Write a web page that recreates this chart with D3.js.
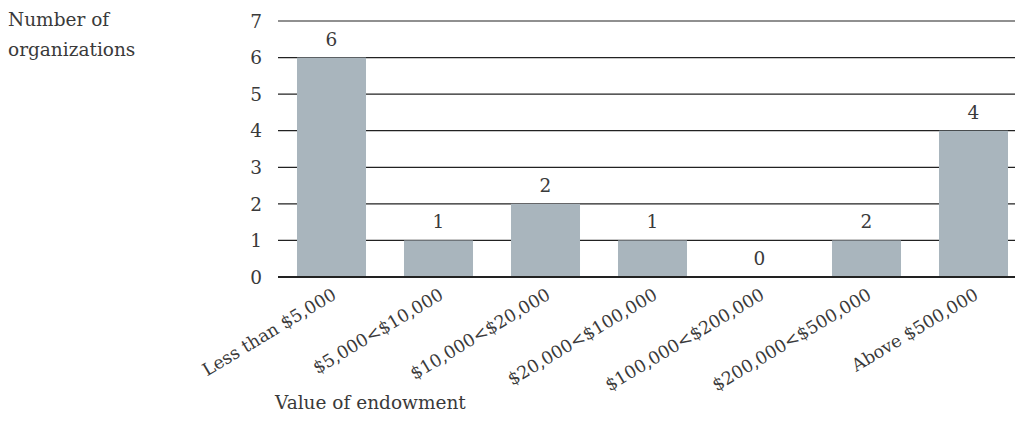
<!DOCTYPE html>
<html>
<head>
<meta charset="utf-8">
<script src="https://cdn.jsdelivr.net/npm/d3@7"></script>
<style>
  body { margin: 0; background: #fff; }
  svg text { font-family: "DejaVu Serif", "Liberation Serif", serif; fill: #3a3a3a; }
</style>
</head>
<body>
<div id="chart"></div>
<script>
// endowment brackets
var categories = ["Less than $5,000", "$5,000<$10,000", "$10,000<$20,000", "$20,000<$100,000",
                  "$100,000<$200,000", "$200,000<$500,000", "Above $500,000"];
var counts = [6, 1, 2, 1, 0, 1, 4];
// labels as printed above the bars
var barLabels = ["6", "1", "2", "1", "0", "2", "4"];
var yTicks = [0, 1, 2, 3, 4, 5, 6, 7];

var svg_width = 1015,
    svg_height = 430,
    margin = {top: 21, right: -12, bottom: 153, left: 278},
    width = svg_width - margin.left - margin.right,
    height = svg_height - margin.top - margin.bottom;

var svg = d3.select("#chart").append("svg")
    .attr("width", svg_width)
    .attr("height", svg_height);

var g = svg.append("g")
    .attr("transform", "translate(" + margin.left + "," + margin.top + ")");

var x = d3.scaleBand()
    .domain(categories)
    .range([0, width])
    .paddingInner(0.355)
    .paddingOuter(0.1775);

var y = d3.scaleLinear()
    .domain([0, 7])
    .range([height, 0]);

// gridlines
g.selectAll(".grid")
    .data(yTicks.filter(function(d) { return d > 0; }))
    .enter().append("line")
    .attr("x1", 0)
    .attr("x2", width)
    .attr("y1", function(d) { return y(d); })
    .attr("y2", function(d) { return y(d); })
    .attr("stroke", "#222")
    .attr("stroke-width", 1.2);

// y tick labels
g.selectAll(".ytick")
    .data(yTicks)
    .enter().append("text")
    .attr("x", -16)
    .attr("y", function(d) { return y(d); })
    .attr("dy", "0.36em")
    .attr("text-anchor", "end")
    .style("font-size", "18.5px")
    .text(function(d) { return d; });

// bars
g.selectAll(".bar")
    .data(counts)
    .enter().append("rect")
    .attr("x", function(d, i) { return x(categories[i]); })
    .attr("y", function(d) { return y(d); })
    .attr("width", x.bandwidth())
    .attr("height", function(d) { return y(0) - y(d); })
    .attr("fill", "#a9b5bd");

// baseline
g.append("line")
    .attr("x1", 0)
    .attr("x2", width)
    .attr("y1", y(0))
    .attr("y2", y(0))
    .attr("stroke", "#222")
    .attr("stroke-width", 2);

// value labels
g.selectAll(".val")
    .data(counts)
    .enter().append("text")
    .attr("x", function(d, i) { return x(categories[i]) + x.bandwidth() / 2; })
    .attr("y", function(d) { return y(d) - 12; })
    .attr("text-anchor", "middle")
    .style("font-size", "18.5px")
    .text(function(d, i) { return barLabels[i]; });

// category labels, rotated
g.selectAll(".xlab")
    .data(categories)
    .enter().append("text")
    .attr("text-anchor", "end")
    .attr("transform", function(d) {
        return "translate(" + (x(d) + x.bandwidth() / 2 + 6) + "," + (height + 21) + ")rotate(-31)";
    })
    .style("font-size", "17.5px")
    .text(function(d) { return d; });

// axis titles
svg.append("text")
    .attr("x", 8)
    .attr("y", 26)
    .style("font-size", "18.5px")
    .text("Number of");
svg.append("text")
    .attr("x", 8)
    .attr("y", 56)
    .style("font-size", "18.5px")
    .text("organizations");

svg.append("text")
    .attr("x", 275)
    .attr("y", 409)
    .style("font-size", "18.5px")
    .text("Value of endowment");
</script>
</body>
</html>
